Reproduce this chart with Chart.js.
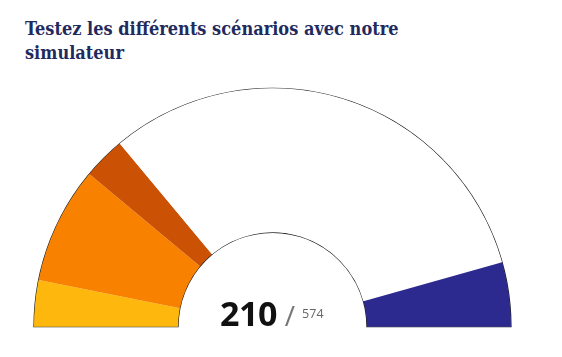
<!DOCTYPE html>
<html>
<head>
<meta charset="utf-8">
<script src="https://cdn.jsdelivr.net/npm/chart.js@4"></script>
<style>
  html, body { margin:0; padding:0; background:#fff; }
  body { width:562px; height:357px; position:relative; overflow:hidden; }
  #title { position:absolute; left:25px; top:17px; width:430px; margin:0;
    font-family:"DejaVu Serif Condensed", "DejaVu Serif", serif; font-stretch:condensed; font-weight:bold; font-size:18px; line-height:24px; color:#1f2b5e; }
  #wrap { position:absolute; left:32px; top:86px; width:481px; height:247px; }
  #center { position:absolute; left:220px; top:296px; white-space:nowrap;
    font-family:"Open Sans", sans-serif; line-height:34px; }
  #center .big { font-size:34px; font-weight:bold; color:#111; letter-spacing:-0.5px; }
  #center .sl { font-size:28px; color:#777; margin:0 7px 0 8px; }
  #center .tot { font-size:12.5px; color:#666; vertical-align:8px; }
</style>
</head>
<body>
<h1 id="title">Testez les différents scénarios avec notre simulateur</h1>
<div id="wrap"><canvas id="c"></canvas></div>
<div id="center"><span class="big">210</span><span class="sl">/</span><span class="tot">574</span></div>
<script>
const categories = ["Groupe A", "Groupe B", "Groupe C", "Autres", "Groupe D"];
const seats = [36, 91, 33, 364, 50];
const colors = ["#fdb70d", "#f88200", "#cb5104", "#ffffff", "#2c2a8f"];
const totalSeats = 574;
const selectedSeats = 210;

const underlay = {
  id: 'underlay',
  beforeDatasetsDraw(chart) {
    const arc = chart.getDatasetMeta(0).data[0];
    if (!arc) return;
    const {x, y, outerRadius, innerRadius} = arc.getProps(['x','y','outerRadius','innerRadius'], true);
    const ctx = chart.ctx;
    ctx.save();
    ctx.beginPath();
    ctx.arc(x, y, outerRadius, Math.PI, 2*Math.PI);
    ctx.arc(x, y, innerRadius, 2*Math.PI, Math.PI, true);
    ctx.closePath();
    ctx.fillStyle = '#ffffff';
    ctx.fill();
    ctx.lineWidth = 1.2;
    ctx.strokeStyle = '#222222';
    ctx.stroke();
    ctx.restore();
  }
};

new Chart(document.getElementById('c'), {
  type: 'doughnut',
  data: {
    labels: categories,
    datasets: [{
      data: seats,
      backgroundColor: colors,
      borderWidth: 0
    }]
  },
  options: {
    responsive: true,
    maintainAspectRatio: false,
    animation: false,
    rotation: -90,
    circumference: 180,
    cutout: '39.6%',
    layout: { padding: { left: 2, right: 2, top: 2, bottom: 6 } },
    plugins: { legend: { display: false }, tooltip: { enabled: false } }
  },
  plugins: [underlay]
});
</script>
</body>
</html>
